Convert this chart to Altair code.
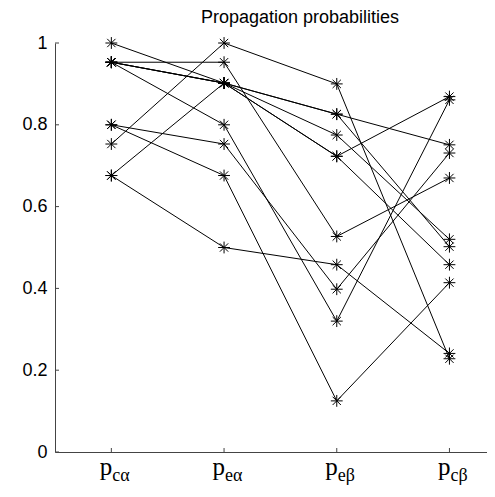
import altair as alt
import pandas as pd

# category subscripts (x axis: p with subscript)
categories = ["cα", "eα", "eβ", "cβ"]
positions = [1, 2, 3, 4]

# one entry per polyline
p_ca = [1.0, 0.953, 0.953, 0.953, 0.676, 0.953, 0.953, 0.80, 0.80, 0.753, 0.676]
p_ea = [0.902, 0.902, 0.902, 0.902, 0.902, 0.953, 0.80, 0.753, 0.676, 1.0, 0.50]
p_eb = [0.826, 0.826, 0.775, 0.723, 0.723, 0.527, 0.32, 0.398, 0.125, 0.90, 0.458]
p_cb = [0.751, 0.502, 0.52, 0.458, 0.869, 0.67, 0.861, 0.731, 0.414, 0.228, 0.241]

y_ticks = [0, 0.2, 0.4, 0.6, 0.8, 1]
title_text = "Propagation probabilities"

rows = []
for i in range(len(p_ca)):
    for pos, col in zip(positions, [p_ca, p_ea, p_eb, p_cb]):
        rows.append({"line": i, "pos": pos, "value": col[i]})
df = pd.DataFrame(rows)
cat_df = pd.DataFrame({"pos": positions, "sub": categories, "p": ["p"] * 4})
ytick_df = pd.DataFrame({"v": y_ticks})

W = 432
H = 409
AX = "#444444"

xscale = alt.Scale(domain=[0.5, 0.5 + W / 112.7], nice=False, zero=False)
yscale = alt.Scale(domain=[0, 1], nice=False, zero=False)

base = alt.Chart(df)

lines = base.mark_line(color="black", strokeWidth=1).encode(
    x=alt.X("pos:Q", scale=xscale,
            axis=alt.Axis(title=None, labels=False, ticks=False, grid=False,
                          domainColor=AX, domainWidth=1)),
    y=alt.Y("value:Q", scale=yscale,
            axis=alt.Axis(title=None, values=y_ticks, ticks=False, grid=False,
                          labelFont="Liberation Sans", labelFontSize=18,
                          labelColor="black", labelPadding=8, format="~g",
                          domainColor=AX, domainWidth=1)),
    detail="line:N",
    order="pos:Q",
)

star = "M-1,0L1,0M0,-1L0,1M-0.7,-0.7L0.7,0.7M-0.7,0.7L0.7,-0.7"
points = base.mark_point(shape=star, filled=False, color="black",
                         strokeWidth=1, size=140, opacity=1).encode(
    x=alt.X("pos:Q", scale=xscale),
    y=alt.Y("value:Q", scale=yscale),
)

yt = alt.Chart(ytick_df).mark_rule(color=AX, strokeWidth=1).encode(
    y=alt.Y("v:Q", scale=yscale),
    x=alt.value(0), x2=alt.value(4),
)

xt = alt.Chart(cat_df).mark_rule(color=AX, strokeWidth=1).encode(
    x=alt.X("pos:Q", scale=xscale),
    y=alt.value(H), y2=alt.value(H - 4),
)

p_lab = alt.Chart(cat_df).mark_text(
    font="Liberation Serif", fontSize=25, align="right", baseline="alphabetic",
    dx=1, color="black"
).encode(x=alt.X("pos:Q", scale=xscale), y=alt.value(H + 23), text="p:N")

sub_lab = alt.Chart(cat_df).mark_text(
    font="Liberation Serif", fontSize=18, align="left", baseline="alphabetic",
    dx=1, color="black"
).encode(x=alt.X("pos:Q", scale=xscale), y=alt.value(H + 29), text="sub:N")

title = alt.Chart(cat_df.head(1)).mark_text(
    font="Liberation Sans", fontSize=18, align="center", baseline="alphabetic",
    color="black"
).encode(x=alt.value(245), y=alt.value(-20), text=alt.value(title_text))

chart = alt.layer(lines, yt, xt, points, p_lab, sub_lab, title).properties(
    width=W, height=H,
    autosize=alt.AutoSizeParams(type="none"),
    padding={"left": 47, "top": 35, "right": 0, "bottom": 34},
).configure_view(stroke=None)

chart.save("out.html", embed_options={"renderer": "svg", "actions": False})
